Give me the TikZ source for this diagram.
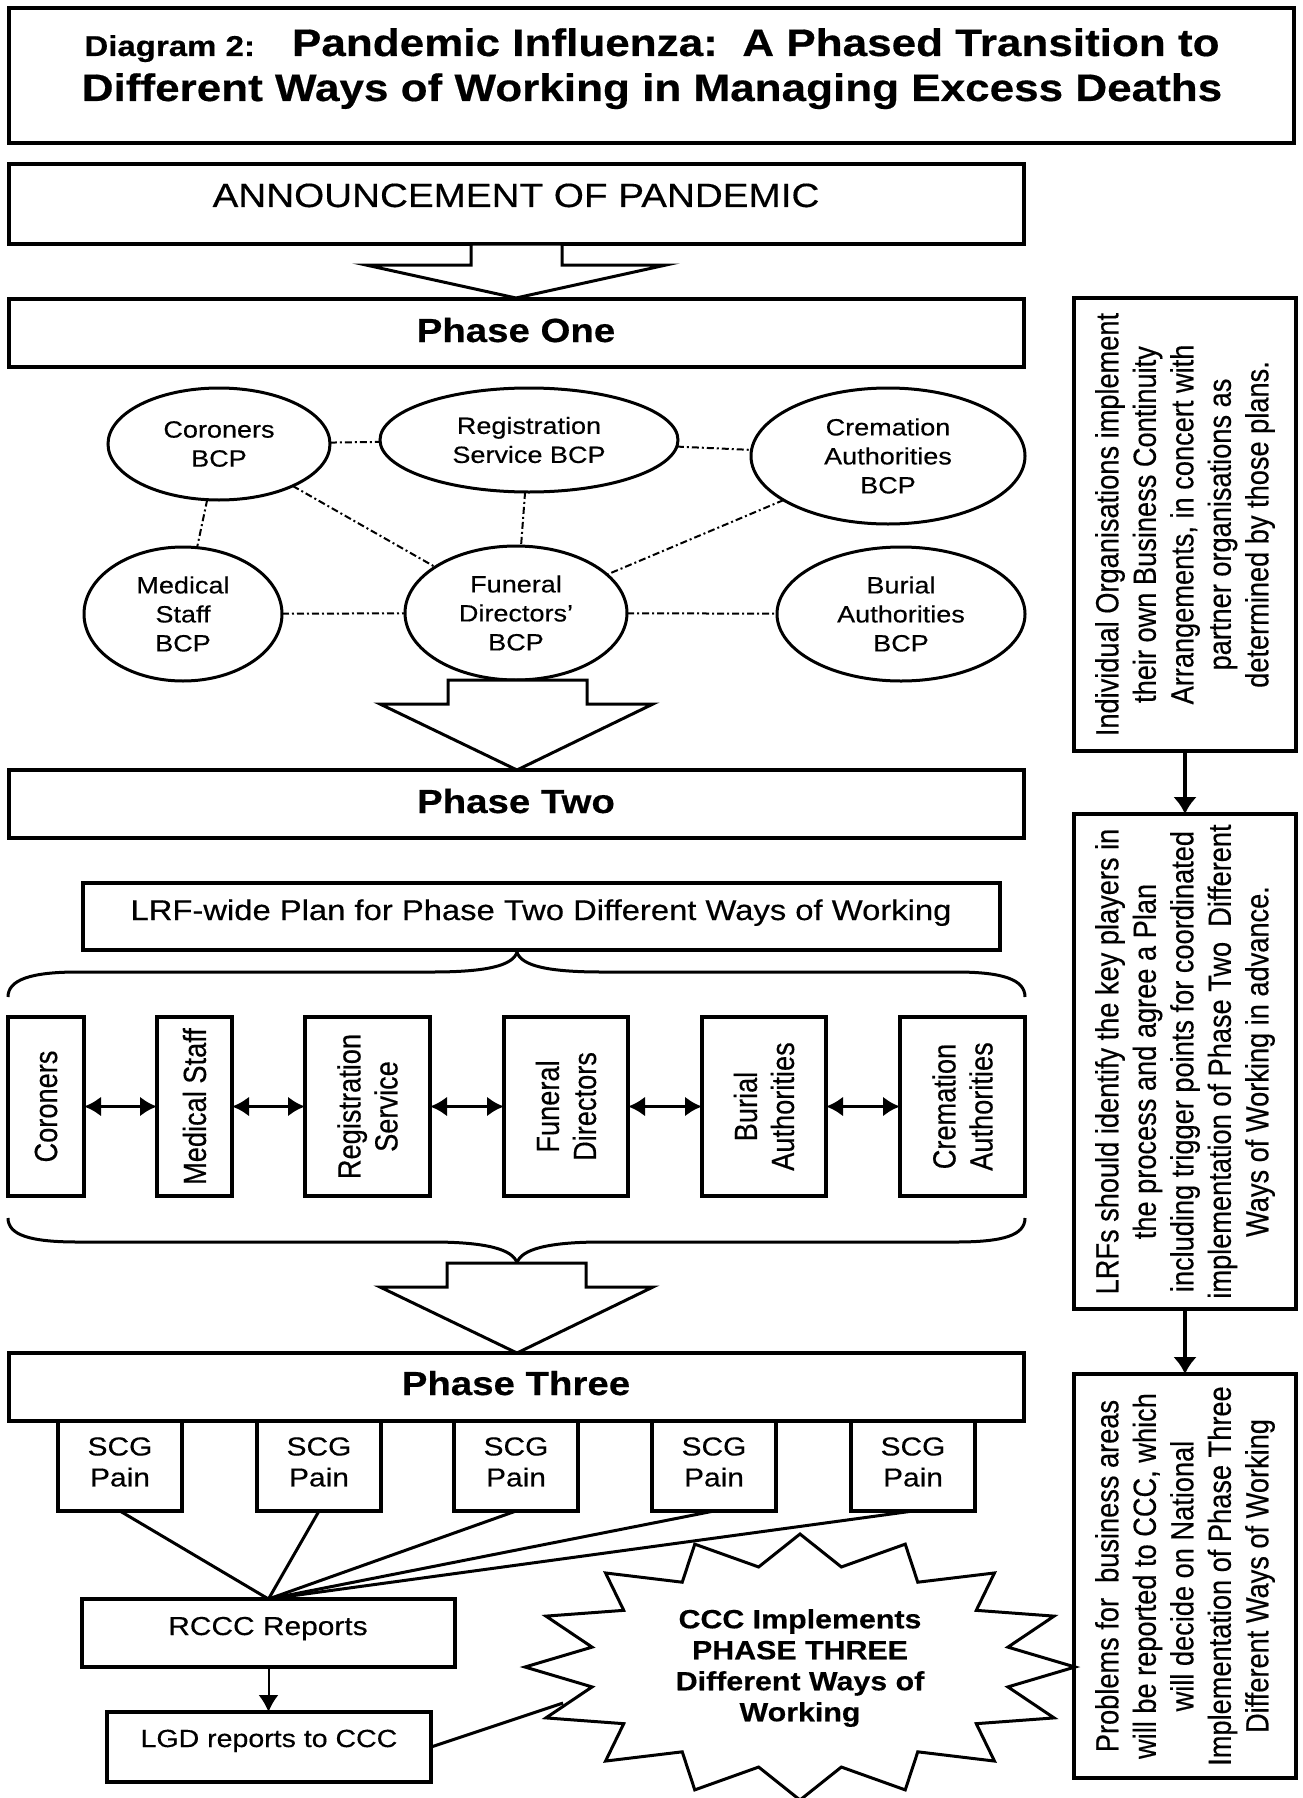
\documentclass[tikz,border=0pt]{standalone}
\usepackage{fontspec}
\setmainfont{Liberation Sans}
\newfontfamily\hfont[FakeStretch=1.15,FakeBold=0.4]{Liberation Sans}
\newfontfamily\vfont[FakeStretch=0.85,FakeBold=0.4]{Liberation Sans}
\usetikzlibrary{shapes.geometric,arrows.meta}
\newcommand\fsz[2]{\fontsize{#1}{#2}\selectfont}

\begin{document}
\begin{tikzpicture}[x=1pt,y=-1pt,
  bx/.style={draw,line width=3.2pt,rectangle,inner sep=0pt,outer sep=0pt,anchor=north west},
  el/.style={draw,line width=3pt,ellipse,inner sep=0pt,outer sep=0pt,font=\hfont\fsz{23.5}{29},align=center},
  dd/.style={line width=2pt,dash pattern=on 7pt off 3pt on 2pt off 3pt},
  ht/.style={inner sep=0pt,anchor=base,align=center},
  vt/.style={inner sep=0pt,rotate=90,align=center,font=\vfont\fsz{32}{37}},
  rt/.style={inner sep=0pt,rotate=90,align=center,font=\vfont\fsz{32}{37.5}},
  hol/.style={draw,line width=3pt,fill=white,line join=miter},
  ln/.style={line width=3pt},
  dbl/.style={line width=3.6pt,{Latex[length=17pt,width=20pt]}-{Latex[length=17pt,width=20pt]}},
  rar/.style={line width=4.8pt,-{Latex[length=17pt,width=24pt]}},
]
\fill[white] (0,0) rectangle (1303,1798);
\useasboundingbox (0,0) rectangle (1303,1798);

% title
\node[bx,minimum width=1285,minimum height=135] (title) at (9,8) {};
\node[ht,font=\hfont\bfseries] (t1) at (652,56) {{\fsz{28.7}{30}Diagram 2:}\hspace{37pt}{\fsz{38.3}{40}Pandemic Influenza:\ \ A Phased Transition to}};
\node[ht,font=\hfont\bfseries\fsz{38.3}{40}] (t2) at (652,101) {Different Ways of Working in Managing Excess Deaths};

% announcement
\node[bx,minimum width=1015,minimum height=80] (ann) at (9,164) {};
\node[ht,font=\hfont\fsz{33.6}{36}] (annt) at (516,207) {ANNOUNCEMENT OF PANDEMIC};
\draw[hol] (471,244) -- (471,265) -- (366,265) -- (516,298) -- (666,265) -- (562,265) -- (562,244) -- cycle;

% phase one
\node[bx,minimum width=1015,minimum height=68] (p1) at (9,299) {};
\node[ht,font=\hfont\bfseries\fsz{33.4}{36}] (p1t) at (516,342) {Phase One};

% ellipses
\node[el,minimum width=222,minimum height=112] (ecor) at (219,444) {Coroners\\BCP};
\node[el,minimum width=298,minimum height=104] (ereg) at (529,440) {Registration\\Service BCP};
\node[el,minimum width=274,minimum height=136] (ecre) at (888,456) {Cremation\\Authorities\\BCP};
\node[el,minimum width=198,minimum height=134] (emed) at (183,614) {Medical\\Staff\\BCP};
\node[el,minimum width=222,minimum height=134] (efun) at (516,613) {Funeral\\Directors’\\BCP};
\node[el,minimum width=248,minimum height=134] (ebur) at (901,614) {Burial\\Authorities\\BCP};
\draw[dd] (ecor) -- (ereg);
\draw[dd] (ereg) -- (ecre);
\draw[dd] (ecor) -- (emed);
\draw[dd] (ecor) -- (efun);
\draw[dd] (ereg) -- (efun);
\draw[dd] (ecre) -- (efun);
\draw[dd] (emed) -- (efun);
\draw[dd] (efun) -- (ebur);
\draw[hol] (448,680) -- (448,704) -- (380,704) -- (517,770) -- (653,704) -- (587,704) -- (587,680) -- cycle;

% phase two
\node[bx,minimum width=1015,minimum height=68] (p2) at (9,770) {};
\node[ht,font=\hfont\bfseries\fsz{33.4}{36}] (p2t) at (516,813) {Phase Two};
\node[bx,minimum width=917,minimum height=67] (lrf) at (83,883) {};
\node[ht,font=\hfont\fsz{28.5}{32}] (lrft) at (541,920) {LRF-wide Plan for Phase Two Different Ways of Working};

% braces
\draw[ln] (8,997) .. controls (8,980) and (30,972) .. (78,972) -- (432,972) .. controls (485,972) and (513,966) .. (517,952)
  .. controls (521,966) and (549,972) .. (602,972) -- (956,972) .. controls (1004,972) and (1025,980) .. (1025,997);
\draw[ln] (8,1218) .. controls (8,1235) and (30,1242) .. (78,1242) -- (432,1242) .. controls (485,1242) and (513,1249) .. (517,1263)
  .. controls (521,1249) and (549,1242) .. (602,1242) -- (956,1242) .. controls (1004,1242) and (1025,1235) .. (1025,1218);

% vertical boxes
\node[bx,minimum width=76,minimum height=179] (vco) at (8,1017) {};
\node[bx,minimum width=75,minimum height=179] (vms) at (157,1017) {};
\node[bx,minimum width=125,minimum height=179] (vrs) at (305,1017) {};
\node[bx,minimum width=124,minimum height=179] (vfd) at (504,1017) {};
\node[bx,minimum width=124,minimum height=179] (vba) at (702,1017) {};
\node[bx,minimum width=125,minimum height=179] (vca) at (900,1017) {};
\node[vt] (vcot) at (vco.center) {Coroners};
\node[vt] (vmst) at (vms.center) {Medical Staff};
\node[vt] (vrst) at (vrs.center) {Registration\\Service};
\node[vt] (vfdt) at (vfd.center) {Funeral\\Directors};
\node[vt] (vbat) at (vba.center) {Burial\\Authorities};
\node[vt] (vcat) at (vca.center) {Cremation\\Authorities};
\draw[dbl] (vco) -- (vms);
\draw[dbl] (vms) -- (vrs);
\draw[dbl] (vrs) -- (vfd);
\draw[dbl] (vfd) -- (vba);
\draw[dbl] (vba) -- (vca);
\draw[hol] (447,1263) -- (447,1287) -- (380,1287) -- (517,1353) -- (653,1287) -- (586,1287) -- (586,1263) -- cycle;

% phase three
\node[bx,minimum width=1015,minimum height=68] (p3) at (9,1353) {};
\node[ht,font=\hfont\bfseries\fsz{33.4}{36}] (p3t) at (516,1395) {Phase Three};
\foreach \n/\x in {1/58,2/257,3/454,4/652,5/851}{
  \node[bx,minimum width=124,minimum height=90] (s\n) at (\x,1421) {};
  \node[inner sep=0pt,align=center,font=\hfont\fsz{26}{31}] (s\n t) at ([yshift=4pt]s\n.center) {SCG\\Pain};
}

% star
\draw[line width=3pt,fill=white,line join=miter] plot[samples at={0,...,31},variable=\k]
  ({800+ifthenelse(mod(\k,2)==0,275,212)*sin(\k*11.25)},{1667-ifthenelse(mod(\k,2)==0,133,102)*cos(\k*11.25)}) -- cycle;
\node[inner sep=0pt,align=center,font=\hfont\bfseries\fsz{26.4}{31}] (start) at (800,1668) {CCC Implements\\PHASE THREE\\Different Ways of\\Working};

% reports
\node[bx,minimum width=373,minimum height=68] (rccc) at (82,1599) {};
\node[ht,font=\hfont\fsz{26}{30}] (rccct) at (268,1635) {RCCC Reports};
\node[bx,minimum width=324,minimum height=70] (lgd) at (107,1712) {};
\node[ht,font=\hfont\fsz{24.8}{30}] (lgdt) at (269,1747) {LGD reports to CCC};
\foreach \n in {1,...,5}{\draw[ln] (s\n.south) -- (rccc.north);}
\draw[line width=2pt,-{Latex[length=17pt,width=20pt]}] (rccc.south) -- (rccc.south |- lgd.north);
\coordinate (starL) at (563,1703);
\draw[ln] (lgd.east) -- (starL);

% right column
\node[bx,minimum width=222,minimum height=453] (r1) at (1074,298) {};
\node[rt] (r1t) at (r1.center) {Individual Organisations implement\\their own Business Continuity\\Arrangements, in concert with\\partner organisations as\\determined by those plans.};
\node[bx,minimum width=222,minimum height=495] (r2) at (1074,814) {};
\node[rt] (r2t) at (r2.center) {LRFs should identify the key players in\\the process and agree a Plan\\including trigger points for coordinated\\implementation of Phase Two\ \ Different\\Ways of Working in advance.};
\node[bx,minimum width=222,minimum height=404] (r3) at (1074,1374) {};
\node[rt] (r3t) at (r3.center) {Problems for\ \ business areas\\will be reported to CCC, which\\will decide on National\\Implementation of Phase Three\\Different Ways of Working};
\draw[rar] (r1.south) -- (r2.north);
\draw[rar] (r2.south) -- (r3.north);
\end{tikzpicture}
\end{document}
